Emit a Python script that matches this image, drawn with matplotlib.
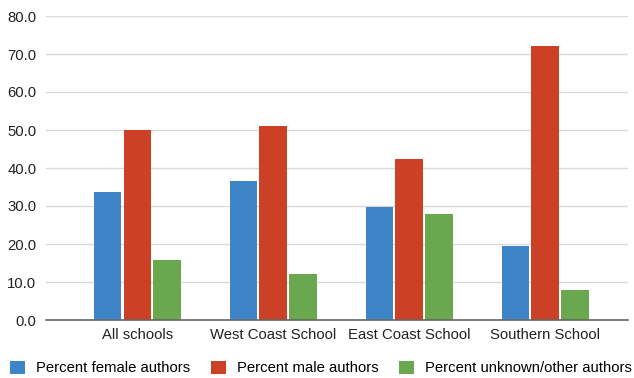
import matplotlib.pyplot as plt
import numpy as np

plt.rcParams['font.family'] = ['Liberation Sans', 'DejaVu Sans']

schools = ['All schools', 'West Coast School', 'East Coast School', 'Southern School']
female = [33.7, 36.7, 29.8, 19.6]
male = [50.0, 51.0, 42.5, 72.2]
unknown = [15.8, 12.1, 27.8, 7.9]

series = [
    ('Percent female authors', female, '#3d85c6'),
    ('Percent male authors', male, '#cc4125'),
    ('Percent unknown/other authors', unknown, '#6aa84f'),
]

fs = 10.7

fig = plt.figure(figsize=(6.34, 3.78), dpi=100)
ax = fig.add_axes([46 / 634, 1 - 320 / 378, 582 / 634, 304 / 378])

x = np.arange(len(schools))
pitch = 0.22
for i, (name, vals, color) in enumerate(series):
    ax.bar(x + (i - 1) * pitch, vals, width=0.2, color=color, label=name, zorder=3)

ax.set_ylim(0, 80)
ax.set_xlim(-0.67, 3.61)
ax.set_yticks(np.arange(0, 81, 10))
ax.set_yticklabels([f'{v:.1f}' for v in np.arange(0, 81, 10)])
ax.set_xticks(x)
ax.set_xticklabels(schools)
ax.grid(axis='y', color='#d9d9d9', linewidth=1, zorder=0)
ax.tick_params(length=0, labelsize=fs, colors='#222222')
ax.tick_params(axis='x', pad=6)
ax.tick_params(axis='y', pad=7)
for side in ['top', 'right', 'left']:
    ax.spines[side].set_visible(False)
ax.spines['bottom'].set_color('#666666')
ax.spines['bottom'].set_linewidth(1.2)
ax.spines['bottom'].set_zorder(4)

fig.legend(loc='center left', bbox_to_anchor=(10 / 634, 1 - 368 / 378), ncol=3,
           frameon=False, fontsize=fs, borderpad=0, borderaxespad=0,
           handlelength=1.0, handleheight=1.0, handletextpad=0.74,
           columnspacing=1.4)

fig.savefig('out.png', dpi=100)
